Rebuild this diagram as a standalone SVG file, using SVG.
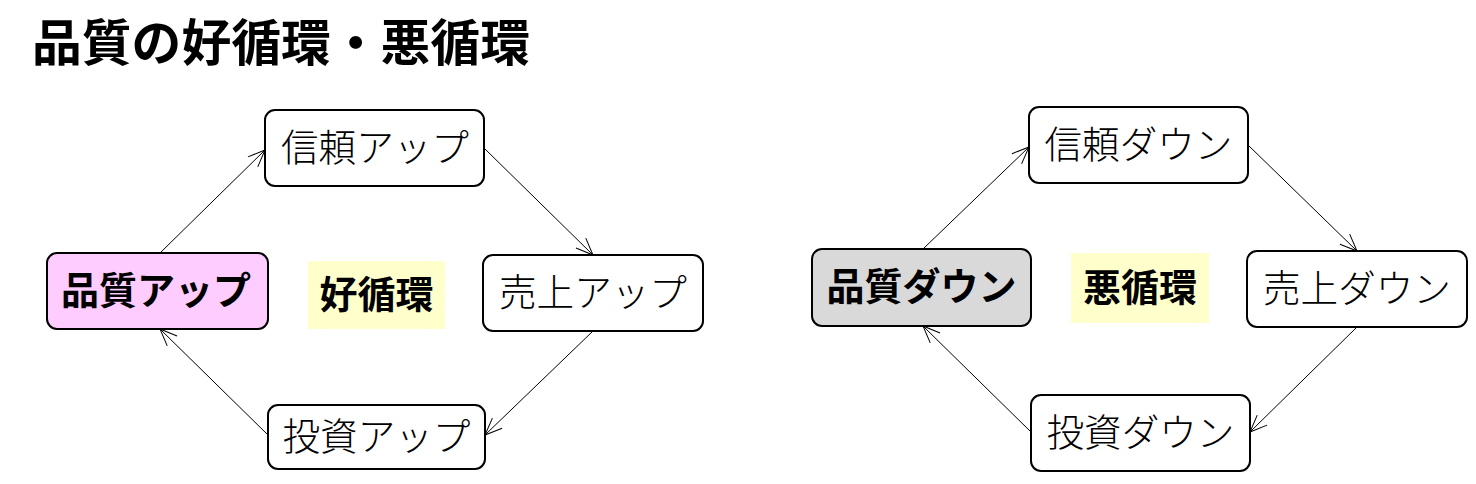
<svg xmlns="http://www.w3.org/2000/svg" width="1476" height="484" viewBox="0 0 1476 484">
<style>
.box{fill:#ffffff;stroke:#000;stroke-width:2}
.t{font-family:"Noto Sans CJK JP","Noto Sans",sans-serif;font-size:37.6px;font-weight:300;text-anchor:middle;fill:#000}
.tb{font-family:"Noto Sans CJK JP","Noto Sans",sans-serif;font-size:38px;font-weight:700;text-anchor:middle;fill:#000}
.title{font-family:"Noto Sans CJK JP","Noto Sans",sans-serif;font-size:49.8px;font-weight:700;fill:#000}
.c{stroke:#000;stroke-width:1;fill:none;marker-end:url(#arr)}
</style>
<defs>
<marker id="arr" viewBox="0 0 20 20" refX="18" refY="10" markerWidth="20" markerHeight="20" markerUnits="userSpaceOnUse" orient="auto">
<path d="M1,3 L18,10 L1,17" fill="none" stroke="#000" stroke-width="1"/>
</marker>
</defs>
<rect width="1476" height="484" fill="#fff"/>
<text class="title" x="32" y="61">品質の好循環・悪循環</text>

<g id="connectors">
<line class="c" x1="160" y1="253" x2="265" y2="150"/>
<line class="c" x1="484" y1="148" x2="593" y2="255"/>
<line class="c" x1="593" y1="331" x2="485" y2="435"/>
<line class="c" x1="268" y1="435" x2="160" y2="329"/>
<line class="c" x1="923" y1="249" x2="1029" y2="147"/>
<line class="c" x1="1248" y1="145" x2="1357" y2="251"/>
<line class="c" x1="1357" y1="327" x2="1250" y2="432"/>
<line class="c" x1="1031" y1="432" x2="923" y2="326"/>
</g>

<g id="good-label">
<rect x="308" y="261" width="137" height="68" fill="#ffffcc"/>
<text class="tb" x="376.5" y="308">好循環</text>
</g>
<g id="n-quality-up">
<rect class="box" x="47" y="253" width="221" height="76" rx="10" style="fill:#ffccff"/>
<text class="tb" x="156" y="304">品質アップ</text>
</g>
<g id="n-trust-up">
<rect class="box" x="265" y="110" width="219" height="76" rx="10"/>
<text class="t" x="375" y="161">信頼アップ</text>
</g>
<g id="n-sales-up">
<rect class="box" x="483" y="255" width="220" height="76" rx="10"/>
<text class="t" x="593" y="306">売上アップ</text>
</g>
<g id="n-invest-up">
<rect class="box" x="268" y="405" width="217" height="64" rx="10"/>
<text class="t" x="376.5" y="450">投資アップ</text>
</g>

<g id="bad-label">
<rect x="1071" y="253" width="138" height="70" fill="#ffffcc"/>
<text class="tb" x="1140" y="301">悪循環</text>
</g>
<g id="n-quality-down">
<rect class="box" x="812" y="249" width="219" height="77" rx="10" style="fill:#d9d9d9"/>
<text class="tb" x="921.5" y="300">品質ダウン</text>
</g>
<g id="n-trust-down">
<rect class="box" x="1029" y="107" width="219" height="76" rx="10"/>
<text class="t" x="1138.5" y="158">信頼ダウン</text>
</g>
<g id="n-sales-down">
<rect class="box" x="1247" y="251" width="220" height="76" rx="10"/>
<text class="t" x="1357" y="302">売上ダウン</text>
</g>
<g id="n-invest-down">
<rect class="box" x="1031" y="395" width="219" height="76" rx="10"/>
<text class="t" x="1140.5" y="446">投資ダウン</text>
</g>
</svg>
